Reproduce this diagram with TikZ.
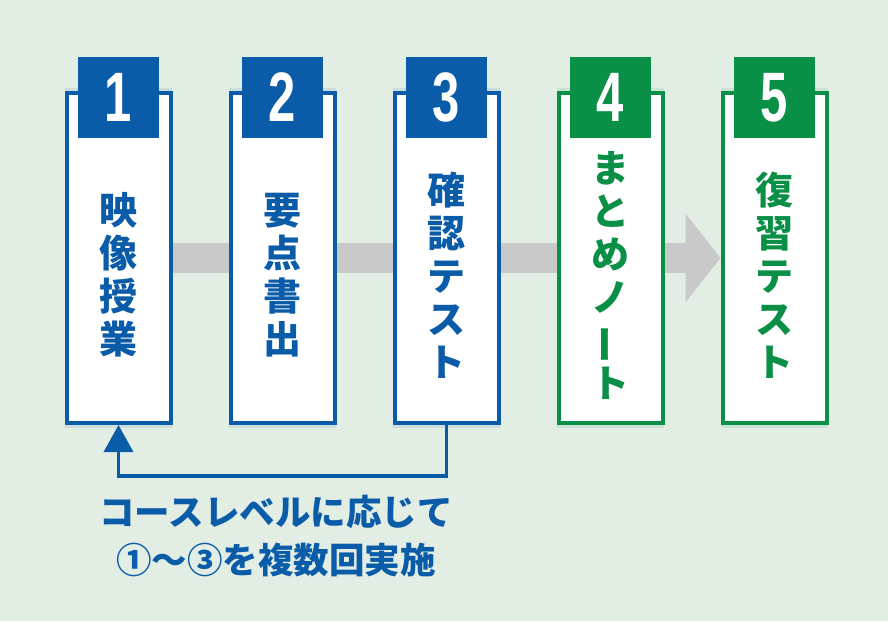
\documentclass[tikz,border=0pt]{standalone}
\usepackage{fontspec}
\newfontfamily\jp{Noto Sans CJK JP}
\newfontfamily\numfont{Liberation Sans}
\usetikzlibrary{arrows.meta,shadows,backgrounds}
\definecolor{bgcol}{HTML}{E2EDE3}
\definecolor{kblue}{HTML}{0B5CA8}
\definecolor{kgreen}{HTML}{0A8F47}
\definecolor{flow}{HTML}{C9C9C9}
\newcommand{\longbar}{\rotatebox[origin=c]{90}{ー}}
\begin{document}
\begin{tikzpicture}[x=1pt,y=-1pt,
    card/.style={draw, line width=4pt, fill=white, inner sep=0pt,
        minimum width=104pt, minimum height=330pt,
        general shadow={fill=#1, opacity=0.1, shadow scale=1.03,
            shadow xshift=0pt, shadow yshift=0pt}},
    tab/.style={fill=#1, text=white, inner sep=0pt,
        minimum width=81pt, minimum height=81pt,
        font=\numfont\bfseries\fontsize{70}{70}\selectfont},
    word/.style={text=#1, align=center,
        font=\jp\bfseries\fontsize{38}{43}\selectfont}]
    \useasboundingbox (0,0) rectangle (888,621);
    \foreach \i/\c/\t in {1/kblue/{映\\像\\授\\業},
            2/kblue/{要\\点\\書\\出},
            3/kblue/{確\\認\\テ\\ス\\ト},
            4/kgreen/{ま\\と\\め\\ノ\\\longbar\\ト},
            5/kgreen/{復\\習\\テ\\ス\\ト}} {
        \node [card=\c, draw=\c] (k\i) at ({118.5+164*(\i-1)}, 258) {};
        \node [tab=\c] (n\i) at ({118.5+164*(\i-1)}, 97.5) {\scalebox{0.7}[1]{\i}};
        \node [word=\c] (w\i) at ({118.5+164*(\i-1)}, 275) {\t};
    }
    \begin{pgfonlayer}{background}
        \fill [bgcol] (0,0) rectangle (888,621);
        \draw [flow, line width=30pt, -{Triangle[length=35pt,width=87pt]}]
            (k1.center) -- (k5.west);
    \end{pgfonlayer}
    \draw [kblue, line width=3.5pt, -{Triangle[length=27pt,width=29pt]}]
        (k3.south) -- ++(0,51) -| (k1.south);
    \node [text=kblue, align=center, font=\jp\bfseries\fontsize{35.5}{48}\selectfont]
        (note) at (276, 536) {コースレベルに応じて\\①～③を複数回実施};
\end{tikzpicture}
\end{document}
